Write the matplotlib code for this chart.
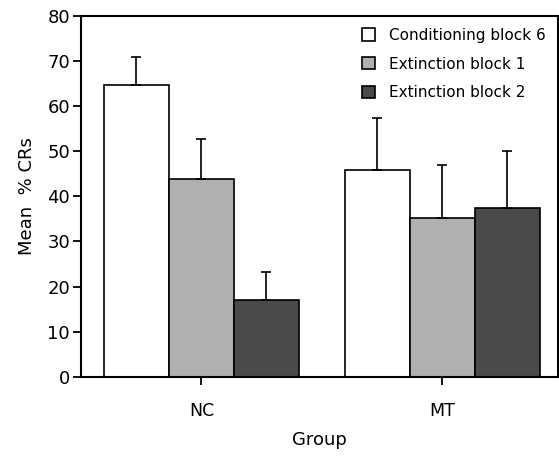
import matplotlib
matplotlib.use("Agg")
import matplotlib.pyplot as plt
import numpy as np

groups = ["NC", "MT"]
series = ["Conditioning block 6", "Extinction block 1", "Extinction block 2"]
colors = ["white", "#b0b0b0", "#4a4a4a"]

means = [
    [64.6, 45.9],   # Conditioning block 6
    [43.9, 35.2],   # Extinction block 1
    [17.0, 37.5],   # Extinction block 2
]
errs = [
    [6.2, 11.5],
    [8.7, 11.7],
    [6.2, 12.5],
]

fig = plt.figure(figsize=(5.59, 4.57), dpi=100)
ax = fig.add_axes([0.145, 0.175, 0.853, 0.791])

x = np.arange(len(groups))
w = 0.27
for i in range(3):
    pos = x + (i - 1) * w
    ax.bar(pos, means[i], w, color=colors[i], edgecolor="black", linewidth=1.2,
           yerr=[[0] * len(groups), errs[i]], capsize=3.5,
           error_kw=dict(elinewidth=1.2, capthick=1.2, ecolor="black"),
           label=series[i], zorder=2)

ax.set_xlim(-0.5, 1.48)
ax.set_ylim(0, 80)
ax.set_yticks(range(0, 81, 10))
ax.set_xticks(x)
ax.set_xticklabels(groups)
ax.tick_params(axis="y", direction="out", length=6, width=1.3, labelsize=13, pad=2)
ax.tick_params(axis="x", direction="out", length=6, width=1.3, labelsize=12.5, pad=12)
for s in ax.spines.values():
    s.set_linewidth(1.5)

ax.set_ylabel("Mean  % CRs", fontsize=13, labelpad=8)
ax.set_xlabel("Group", fontsize=13, labelpad=8)

ax.legend(loc="upper right", bbox_to_anchor=(1.0, 1.0), frameon=False, fontsize=11,
          handlelength=0.85, handleheight=0.85, handletextpad=0.9, labelspacing=0.9,
          borderaxespad=0.4)

fig.savefig("out.png", dpi=100)
